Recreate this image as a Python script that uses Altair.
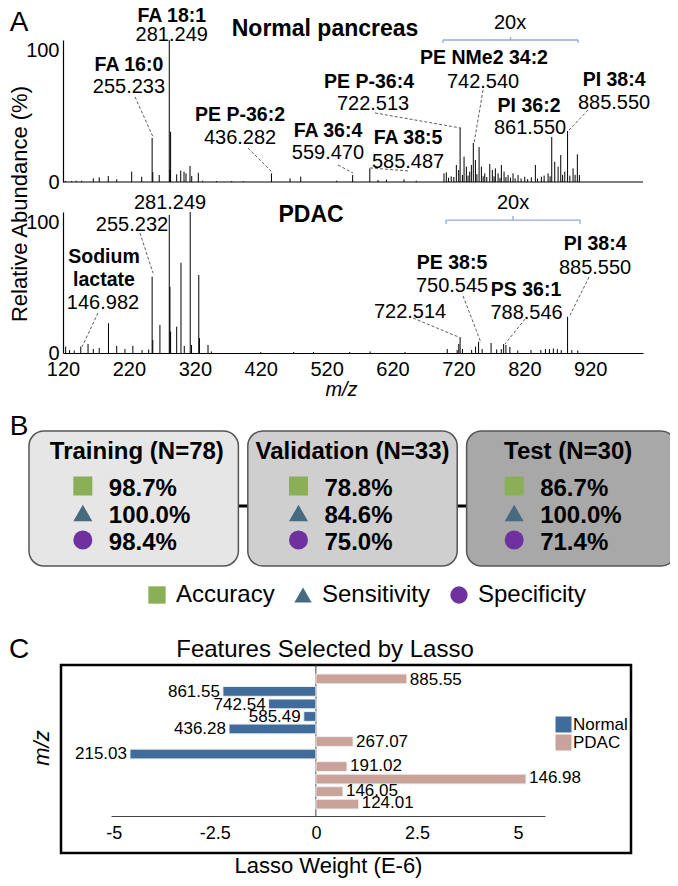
import altair as alt
import pandas as pd

FONT = "Liberation Sans"

# ---------------- data: panel A (stick spectra, relative abundance %) ----------------
normal_mz = [124.0, 133.0, 140.0, 148.4, 166.0, 175.0, 188.7, 201.5, 224.2, 239.4,
             255.23, 256.24, 266.0, 281.25, 282.25, 283.26, 292.5, 298.6, 303.6, 306.6,
             312.7, 315.3, 325.3, 332.0, 353.0, 376.0, 393.6, 436.28, 464.5, 480.7,
             535.3, 559.47, 585.49, 598.0, 610.7, 637.4, 656.0, 698.0, 701.6, 705.0,
             709.0, 713.0, 716.8, 720.4, 722.51, 726.0, 728.5, 732.0, 734.5, 737.1,
             739.6, 742.54, 745.7, 748.0, 751.3, 754.8, 757.5, 759.9, 763.0, 767.5,
             771.4, 774.0, 776.0, 780.1, 783.0, 785.1, 789.2, 792.0, 795.3, 799.0,
             802.8, 806.0, 810.4, 815.0, 820.6, 825.0, 830.6, 836.7, 840.0, 845.8,
             850.0, 856.0, 859.0, 861.55, 866.1, 871.2, 875.2, 878.0, 881.3, 885.55,
             889.0, 893.9, 897.0, 900.4, 903.5]
normal_int = [0.8, 0.6, 0.9, 0.9, 2.6, 3.3, 4.2, 1.9, 7.3, 3.7,
              31.0, 7.0, 4.9, 100.0, 8.5, 35.4, 5.4, 8.0, 7.3, 6.1,
              11.3, 4.2, 6.5, 0.9, 0.7, 0.7, 0.5, 6.1, 2.6, 3.8,
              0.9, 4.9, 9.6, 1.4, 1.7, 1.9, 0.9, 6.1, 6.8, 3.0,
              4.0, 3.5, 12.0, 8.5, 38.0, 5.0, 17.8, 10.8, 4.5, 7.3,
              12.0, 27.5, 15.5, 5.5, 24.6, 10.8, 4.0, 6.1, 3.5, 12.7,
              8.5, 4.0, 9.6, 6.1, 3.0, 12.0, 7.3, 3.5, 4.9, 3.0,
              6.1, 2.5, 4.9, 2.5, 3.7, 2.0, 3.3, 12.0, 2.5, 3.7,
              4.5, 6.1, 4.0, 31.7, 14.3, 10.8, 19.0, 5.0, 7.3, 35.9,
              4.5, 9.6, 5.0, 19.5, 4.9]

pdac_mz = [124.01, 130.0, 137.0, 146.98, 158.0, 166.0, 175.0, 189.0, 201.5, 214.0,
           226.0, 240.0, 250.0, 255.23, 256.24, 267.07, 281.25, 282.25, 283.26, 292.5,
           299.0, 304.0, 313.0, 315.0, 326.0, 327.0, 340.0, 345.0, 420.0, 470.0,
           500.0, 555.0, 586.0, 639.0, 703.0, 718.0, 720.5, 722.51, 726.0, 740.0,
           746.0, 750.55, 756.0, 769.5, 778.0, 785.0, 788.55, 792.0, 798.0, 810.0,
           830.0, 845.0, 852.0, 858.0, 864.0, 870.0, 876.0, 885.55, 892.0, 901.0]
pdac_int = [4.5, 2.1, 1.8, 4.5, 6.4, 2.8, 3.5, 21.1, 5.0, 2.8,
            5.0, 2.1, 2.5, 54.1, 9.2, 19.9, 97.9, 47.0, 15.1, 18.7,
            64.0, 5.0, 100.0, 5.7, 55.3, 10.6, 5.7, 1.1, 0.7, 0.7,
            0.7, 0.7, 1.1, 0.7, 2.8, 2.1, 6.4, 10.6, 2.8, 2.1,
            4.5, 8.0, 2.8, 7.1, 2.5, 2.8, 6.4, 5.7, 4.3, 1.8,
            2.1, 2.1, 2.8, 2.8, 3.2, 2.8, 2.1, 25.7, 2.1, 1.8]

mz_ticks = [120, 220, 320, 420, 520, 620, 720, 820, 920]

# peak annotations: (text, m/z position, % position)
normal_names = [("FA 18:1", 285.0, 116.8), ("FA 16:0", 220.0, 82.4),
                ("PE P-36:2", 388.6, 47.2), ("FA 36:4", 522.0, 35.9),
                ("FA 38:5", 643.5, 31.0), ("PE P-36:4", 584.3, 70.4),
                ("PE NMe2 34:2", 758.8, 87.3), ("PI 36:2", 827.1, 53.5),
                ("PI 38:4", 956.1, 71.8)]
normal_values = [("281.249", 285.0, 103.6), ("255.233", 220.0, 66.9),
                 ("436.282", 388.6, 31.0), ("559.470", 522.0, 20.4),
                 ("585.487", 643.5, 14.1), ("722.513", 590.4, 54.9),
                 ("742.540", 757.3, 70.4), ("861.550", 828.6, 38.0),
                 ("885.550", 956.1, 55.6), ("20x", 798.3, 112.0)]
normal_leaders = [(229.3, 59.9, 256.6, 31.7), (400.7, 23.9, 438.7, 6.3),
                  (537.3, 12.0, 560.1, 6.3), (585.9, 9.9, 646.6, 7.7),
                  (593.4, 48.6, 724.0, 38.0), (757.3, 64.8, 743.7, 27.5),
                  (916.7, 50.7, 887.8, 36.6)]
normal_bracket = [(696.6, 100.0, 901.5, 100.0), (696.6, 97.9, 696.6, 100.0),
                  (901.5, 97.9, 901.5, 100.0), (799.0, 100.0, 799.0, 102.1)]

pdac_names = [("Sodium", 182.2, 68.1), ("lactate", 182.2, 51.8),
              ("PE 38:5", 710.3, 63.8), ("PS 36:1", 822.6, 44.7),
              ("PI 38:4", 927.3, 77.3)]
pdac_values = [("281.249", 282.4, 106.4), ("255.232", 224.7, 90.8),
               ("146.982", 180.7, 35.5), ("750.545", 710.3, 47.5),
               ("788.546", 823.3, 28.4), ("722.514", 646.6, 29.1),
               ("885.550", 927.3, 60.3), ("20x", 802.8, 106.4)]
pdac_leaders = [(236.8, 85.1, 256.6, 56.7), (173.1, 28.4, 148.8, 4.3),
                (651.1, 24.8, 724.0, 10.6), (727.0, 40.4, 754.3, 7.1),
                (821.1, 24.1, 790.7, 6.4), (918.2, 53.9, 889.3, 26.9)]
pdac_bracket = [(701.2, 94.3, 904.5, 94.3), (701.2, 91.5, 701.2, 94.3),
                (904.5, 91.5, 904.5, 94.3), (802.8, 94.3, 802.8, 97.2)]

# ---------------- data: panel B ----------------
sets = ["Training (N=78)", "Validation (N=33)", "Test (N=30)"]
metrics = ["Accuracy", "Sensitivity", "Specificity"]
training_vals = [98.7, 100.0, 98.4]
validation_vals = [78.8, 84.6, 75.0]
test_vals = [86.7, 100.0, 71.4]

# ---------------- data: panel C ----------------
features = ["885.55", "861.55", "742.54", "585.49", "436.28", "267.07",
            "215.03", "191.02", "146.98", "146.05", "124.01"]
weights = [2.25, -2.30, -1.17, -0.30, -2.15, 0.92, -4.60, 0.77, 5.20, 0.67, 1.06]
groups = ["PDAC", "Normal", "Normal", "Normal", "Normal", "PDAC",
          "Normal", "PDAC", "PDAC", "PDAC", "PDAC"]
weight_ticks = [-5, -2.5, 0, 2.5, 5]

# ---------------- layout (chart pixel space, page minus 8px margin) ----------------
W, H = 662, 870
XA = alt.Scale(domain=[120, 1000], range=[55, 635], nice=False, zero=False)
YTOP = alt.Scale(domain=[0, 100], range=[174, 32], nice=False, zero=False)
YBOT = alt.Scale(domain=[0, 100], range=[345, 204], nice=False, zero=False)

lab_base = {"condition": {"test": "datum.value === 100", "value": "top"}, "value": "middle"}


def y_axis():
    return alt.Axis(orient="left", offset=-55, values=[0, 100], ticks=False, grid=False,
                    domainColor="black", domainWidth=1.2, labelColor="black",
                    labelFontSize=20, labelPadding=4, title=None, labelBaseline=lab_base)


def spectrum(mz, inten, yscale, xaxis):
    df = pd.DataFrame({"mz": mz, "int": inten, "base": [0.0] * len(mz)})
    return alt.Chart(df).mark_rule(color="black", strokeWidth=1).encode(
        x=alt.X("mz:Q", scale=XA, axis=xaxis),
        y=alt.Y("int:Q", scale=yscale, axis=y_axis()),
        y2="base:Q",
    )


def texts(rows, yscale, bold, size=20):
    df = pd.DataFrame(rows, columns=["t", "x", "y"])
    return alt.Chart(df).mark_text(fontSize=size, fontWeight="bold" if bold else "normal",
                                   align="center", baseline="middle", color="black").encode(
        x=alt.X("x:Q", scale=XA, axis=None),
        y=alt.Y("y:Q", scale=yscale, axis=None),
        text="t:N",
    )


def segs(rows, yscale, color, width, dash=None):
    df = pd.DataFrame(rows, columns=["x", "y", "x2", "y2"])
    kw = dict(color=color, strokeWidth=width)
    if dash:
        kw["strokeDash"] = dash
    return alt.Chart(df).mark_rule(**kw).encode(
        x=alt.X("x:Q", scale=XA, axis=None),
        y=alt.Y("y:Q", scale=yscale, axis=None),
        x2="x2:Q", y2="y2:Q",
    )


bottom_xaxis = alt.Axis(orient="bottom", offset=-(H - 345), values=mz_ticks, ticks=False,
                        grid=False, domainColor="black", domainWidth=1.2, labelColor="black",
                        labelFontSize=20, labelPadding=6, labelFlush=False, labelOverlap=False,
                        title="m/z", titleFontSize=20, titleFontStyle="italic",
                        titleFontWeight="normal", titleColor="black",
                        titleX=333, titleY=36, titleBaseline="middle")

top_base = alt.Chart(pd.DataFrame({"a": [120.0], "b": [1000.0], "z": [0.0]})).mark_rule(
    color="black", strokeWidth=1.2).encode(
    x=alt.X("a:Q", scale=XA, axis=None), x2="b:Q",
    y=alt.Y("z:Q", scale=YTOP, axis=None))

panel_a = [
    top_base,
    spectrum(normal_mz, normal_int, YTOP, None),
    spectrum(pdac_mz, pdac_int, YBOT, bottom_xaxis),
    segs(normal_leaders, YTOP, "#333333", 0.8, [3, 2]),
    segs(pdac_leaders, YBOT, "#333333", 0.8, [3, 2]),
    segs(normal_bracket, YTOP, "#8fa9dc", 1.3),
    segs(pdac_bracket, YBOT, "#8fa9dc", 1.3),
    texts(normal_names, YTOP, True, 19.5),
    texts(normal_values, YTOP, False, 20),
    texts([("Normal pancreas", 517.6, 107.7)], YTOP, True, 23),
    texts(pdac_names, YBOT, True, 19.5),
    texts(pdac_values, YBOT, False, 20),
    texts([("PDAC", 496.3, 97.9)], YBOT, True, 23),
]


def free_text(rows, size, angle=0, style="normal", weight="normal"):
    df = pd.DataFrame(rows, columns=["t", "px", "py"])
    return alt.Chart(df).mark_text(fontSize=size, angle=angle, fontStyle=style,
                                   fontWeight=weight, align="center", baseline="middle",
                                   color="black").encode(
        x=alt.X("px:Q", scale=None, axis=None),
        y=alt.Y("py:Q", scale=None, axis=None),
        text="t:N")


titles = [
    free_text([("A", 11, 15), ("B", 11, 419), ("C", 11, 642)], 28),
    free_text([("Relative Abundance (%)", 12, 196)], 22, angle=270),
    free_text([("m/z", 34, 740)], 22, angle=270, style="italic"),
    free_text([("Features Selected by Lasso", 317, 642)], 24),
]

# ---------------- panel B ----------------
XB = alt.Scale(domain=sets, range=[21, 668], paddingInner=0.043, paddingOuter=0)
YM = alt.Scale(type="point", domain=metrics, range=[478, 532], padding=0)

box_df = pd.DataFrame({"set": sets})
connector = alt.Chart(pd.DataFrame({"set": [sets[0], sets[2]]})).mark_line(
    color="black", strokeWidth=3).encode(
    x=alt.X("set:N", scale=XB, axis=None, sort=sets), y=alt.value(498))
boxes = alt.Chart(box_df).mark_rect(cornerRadius=15, stroke="#555555", strokeWidth=1.5).encode(
    x=alt.X("set:N", scale=XB, axis=None, sort=sets),
    y=alt.value(423), y2=alt.value(558),
    fill=alt.Fill("set:N", scale=alt.Scale(domain=sets, range=["#e6e6e6", "#cfcfcf", "#a8a8a8"]),
                  legend=None))
headers = alt.Chart(box_df).mark_text(fontSize=24, fontWeight="bold", color="black",
                                      baseline="middle").encode(
    x=alt.X("set:N", scale=XB, axis=None, sort=sets), y=alt.value(444), text="set:N")

rows = []
for s, vals in zip(sets, [training_vals, validation_vals, test_vals]):
    for m, v in zip(metrics, vals):
        rows.append({"set": s, "metric": m, "value": v})
met_df = pd.DataFrame(rows)

met_colors = ["#8aaf56", "#466a80", "#7031a0"]
leg_b = dict(orient="none", legendX=137, legendY=575, direction="horizontal", title=None,
             labelFontSize=24, labelColor="black", symbolSize=300, labelOffset=7,
             columnPadding=16, symbolStrokeWidth=0, padding=0)
points = alt.Chart(met_df).mark_point(filled=True, opacity=1, xOffset=-54, size=361).encode(
    x=alt.X("set:N", scale=XB, axis=None, sort=sets),
    y=alt.Y("metric:N", scale=YM, axis=None),
    color=alt.Color("metric:N", scale=alt.Scale(domain=metrics, range=met_colors),
                    legend=alt.Legend(**leg_b)),
    shape=alt.Shape("metric:N", scale=alt.Scale(domain=metrics,
                                                range=["square", "triangle-up", "circle"]),
                    legend=alt.Legend(**leg_b)),
)
values_txt = alt.Chart(met_df).transform_calculate(
    label="format(datum.value, '.1f') + '%'").mark_text(
    fontSize=24, fontWeight="bold", align="left", baseline="middle", xOffset=-28, dy=3,
    color="black").encode(
    x=alt.X("set:N", scale=XB, axis=None, sort=sets),
    y=alt.Y("metric:N", scale=YM, axis=None),
    text="label:N")

panel_b = [connector, boxes, headers, points, values_txt]

# ---------------- panel C ----------------
XC = alt.Scale(domain=[-5.07, 5.67], range=[103, 537], nice=False, zero=False)
YC = alt.Scale(domain=features, range=[666, 801], paddingInner=0.22, paddingOuter=0)
c_df = pd.DataFrame({"mz": features, "w": weights, "group": groups,
                     "zero": [0.0] * len(features)})

frame = alt.Chart(pd.DataFrame({"k": [0]})).mark_rect(
    fillOpacity=0, stroke="black", strokeWidth=2.5).encode(
    x=alt.value(53), x2=alt.value(623), y=alt.value(657), y2=alt.value(845))
zero_line = alt.Chart(pd.DataFrame({"z": [0.0]})).mark_rule(color="#444444", strokeWidth=1).encode(
    x=alt.X("z:Q", scale=XC, axis=None), y=alt.value(657), y2=alt.value(808))
bars = alt.Chart(c_df).mark_bar(stroke="#eeeeee", strokeWidth=1).encode(
    x=alt.X("w:Q", scale=XC,
            axis=alt.Axis(orient="bottom", offset=-(H - 808), values=weight_ticks,
                          labelExpr="'' + datum.value", ticks=False, grid=False,
                          domainColor="#444444", labelColor="black", labelFontSize=18,
                          labelPadding=8, labelFlush=False,
                          title="Lasso Weight (E-6)", titleFontSize=22,
                          titleFontWeight="normal", titleColor="black", titlePadding=13)),
    x2="zero:Q",
    y=alt.Y("mz:N", scale=YC, axis=None, sort=features),
    color=alt.Color("group:N", scale=alt.Scale(domain=["Normal", "PDAC"],
                                               range=["#3f6c9b", "#c9a29a"]),
                    legend=alt.Legend(orient="none", legendX=547, legendY=708, title=None,
                                      symbolType="square", symbolSize=256, labelFontSize=17,
                                      labelColor="black", labelOffset=1, rowPadding=0,
                                      symbolStrokeWidth=0, padding=0)),
)
lab_neg = alt.Chart(c_df).transform_filter("datum.w < 0").mark_text(
    fontSize=17, align="right", baseline="middle", dx=-3, color="black").encode(
    x=alt.X("w:Q", scale=XC, axis=None),
    y=alt.Y("mz:N", scale=YC, axis=None, sort=features), text="mz:N")
lab_pos = alt.Chart(c_df).transform_filter("datum.w >= 0").mark_text(
    fontSize=17, align="left", baseline="middle", dx=3, color="black").encode(
    x=alt.X("w:Q", scale=XC, axis=None),
    y=alt.Y("mz:N", scale=YC, axis=None, sort=features), text="mz:N")

panel_c = [frame, zero_line, bars, lab_neg, lab_pos]

chart = alt.layer(*(panel_a + panel_b + panel_c + titles)).resolve_scale(
    x="independent", y="independent", color="independent", shape="independent",
    fill="independent").properties(
    width=W, height=H, autosize=alt.AutoSizeParams(type="none"), padding=0
).configure(font=FONT).configure_view(stroke=None)

chart.save("out.html", embed_options={"renderer": "svg", "actions": False})
